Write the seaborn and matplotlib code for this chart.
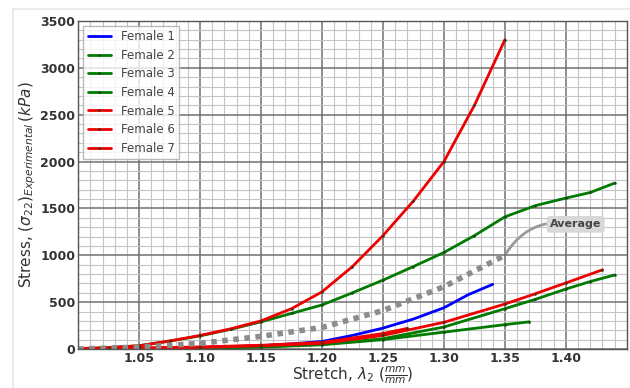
import matplotlib
matplotlib.use("Agg")
import matplotlib.pyplot as plt
from matplotlib.ticker import MultipleLocator, FixedLocator
from matplotlib.lines import Line2D
import seaborn as sns
import pandas as pd

# Stretch (mm/mm) and experimental stress (kPa) for each specimen
f1_stretch = [1.00, 1.05, 1.10, 1.15, 1.175, 1.20, 1.225, 1.25, 1.275, 1.30, 1.32, 1.34]
f1_stress = [0, 5, 15, 35, 55, 80, 145, 223, 320, 440, 580, 690]

f2_stretch = [1.00, 1.025, 1.05, 1.075, 1.10, 1.125, 1.15, 1.175, 1.20, 1.225, 1.25,
              1.275, 1.30, 1.325, 1.35, 1.375, 1.40, 1.42, 1.44]
f2_stress = [0, 15, 35, 85, 140, 210, 290, 380, 470, 600, 735, 880, 1030, 1210, 1410,
             1530, 1610, 1670, 1770]

f3_stretch = [1.00, 1.05, 1.10, 1.15, 1.20, 1.25, 1.30, 1.35, 1.375, 1.40, 1.42, 1.44]
f3_stress = [0, 5, 12, 25, 50, 110, 235, 430, 530, 640, 720, 790]

f4_stretch = [1.00, 1.05, 1.10, 1.15, 1.20, 1.25, 1.30, 1.35, 1.37]
f4_stress = [0, 3, 10, 20, 45, 100, 180, 260, 290]

f5_stretch = [1.00, 1.05, 1.10, 1.15, 1.20, 1.25, 1.30, 1.35, 1.375, 1.40, 1.43]
f5_stress = [0, 8, 18, 35, 60, 145, 285, 480, 590, 705, 845]

f6_stretch = [1.00, 1.05, 1.10, 1.15, 1.20, 1.25, 1.27]
f6_stress = [0, 10, 22, 40, 70, 165, 220]

f7_stretch = [1.00, 1.025, 1.05, 1.075, 1.10, 1.125, 1.15, 1.175, 1.20, 1.225, 1.25,
              1.275, 1.30, 1.325, 1.35]
f7_stress = [5, 15, 35, 85, 145, 215, 300, 430, 610, 880, 1210, 1580, 2000, 2600, 3300]

avg_stretch = [1.00, 1.05, 1.10, 1.15, 1.20, 1.25, 1.30, 1.35]
avg_stress = [0, 20, 60, 135, 230, 410, 665, 1000]

labels = ["Female 1", "Female 2", "Female 3", "Female 4", "Female 5", "Female 6", "Female 7"]
colors = ["#0000ff", "#007a00", "#007a00", "#007a00", "#ee0000", "#ee0000", "#ee0000"]
series = [(f1_stretch, f1_stress), (f2_stretch, f2_stress), (f3_stretch, f3_stress),
          (f4_stretch, f4_stress), (f5_stretch, f5_stress), (f6_stretch, f6_stress),
          (f7_stretch, f7_stress)]

x_ticks = [1.05, 1.10, 1.15, 1.20, 1.25, 1.30, 1.35, 1.40]
x_tick_labels = ["1.05", "1.10", "1.15", "1.20", "1.25", "1.30", "1.35", "1.40"]
y_ticks = [0, 500, 1000, 1500, 2000, 2500, 3000, 3500]

sns.set_style("white")
plt.rcParams["font.family"] = ["DejaVu Sans"]
plt.rcParams["mathtext.fontset"] = "dejavusans"

fig = plt.figure(figsize=(6.3, 3.88), dpi=100)
ax = fig.add_axes([0.124, 0.1005, 0.871, 0.8455])

for (sx, sy), lab, col in zip(series, labels, colors):
    df = pd.DataFrame({"stretch": sx, "stress": sy})
    marker = None if lab == "Female 1" else "o"
    sns.lineplot(data=df, x="stretch", y="stress", ax=ax, color=col, lw=2.0,
                 label=lab, marker=marker, markersize=1.8, markeredgewidth=0,
                 markerfacecolor="#1a3a1a", sort=False)

avg_df = pd.DataFrame({"stretch": avg_stretch, "stress": avg_stress})
sns.lineplot(data=avg_df, x="stretch", y="stress", ax=ax, color="#8c8c8c", lw=4,
             dashes=False, sort=False)
ax.lines[-1].set_dashes((1.0, 1.0))
ax.lines[-1].set_dash_capstyle("butt")

ax.annotate("Average", xy=(avg_stretch[-1], avg_stress[-1]), xytext=(1.408, 1330),
            ha="center", va="center", fontsize=8, fontweight="bold", color="#444444",
            bbox=dict(boxstyle="round,pad=0.3", fc="#d8d8d8", ec="none"),
            arrowprops=dict(arrowstyle="-", color="#999999", lw=2,
                            connectionstyle="arc3,rad=0.35", shrinkA=0, shrinkB=2))

ax.set_xlim(1.0, 1.45)
ax.set_ylim(0, 3500)
ax.xaxis.set_major_locator(FixedLocator(x_ticks))
ax.set_xticklabels(x_tick_labels)
ax.xaxis.set_minor_locator(MultipleLocator(0.01))
ax.yaxis.set_major_locator(FixedLocator(y_ticks))
ax.yaxis.set_minor_locator(MultipleLocator(100))

ax.grid(which="major", color="#707070", lw=1.1, ls="-")
ax.grid(which="minor", color="#c4c4c4", lw=0.8, ls="-")
ax.set_axisbelow(True)

ax.tick_params(axis="both", which="major", labelsize=9, labelcolor="#333333",
               length=3, direction="in", pad=2)
ax.tick_params(axis="both", which="minor", length=0)
for t in ax.get_xticklabels() + ax.get_yticklabels():
    t.set_fontweight("bold")

for s in ax.spines.values():
    s.set_color("#555555")
    s.set_linewidth(1.0)

ax.set_xlabel(r"Stretch, $\lambda_2\ (\frac{mm}{mm})$", fontsize=11, color="#333333",
              labelpad=0)
ax.set_ylabel(r"Stress, $(\sigma_{22})_{Experimental}\,(kPa)$", fontsize=11,
              color="#333333", labelpad=2)

leg = ax.legend(loc="upper left", fontsize=8.5, frameon=True, fancybox=False,
                borderaxespad=0.4, handlelength=2.0, labelspacing=0.47,
                borderpad=0.4)
leg.get_frame().set_edgecolor("#aaaaaa")
leg.get_frame().set_linewidth(1.0)
for t in leg.get_texts():
    t.set_color("#444444")

# thin light frame along the left and top of the figure
fig.add_artist(Line2D([13 / 630, 13 / 630], [0, 1 - 9 / 388], color="#e6e6e6", lw=1.2))
fig.add_artist(Line2D([13 / 630, 1], [1 - 9 / 388, 1 - 9 / 388], color="#e6e6e6", lw=1.2))

fig.savefig("out.png", dpi=100)
